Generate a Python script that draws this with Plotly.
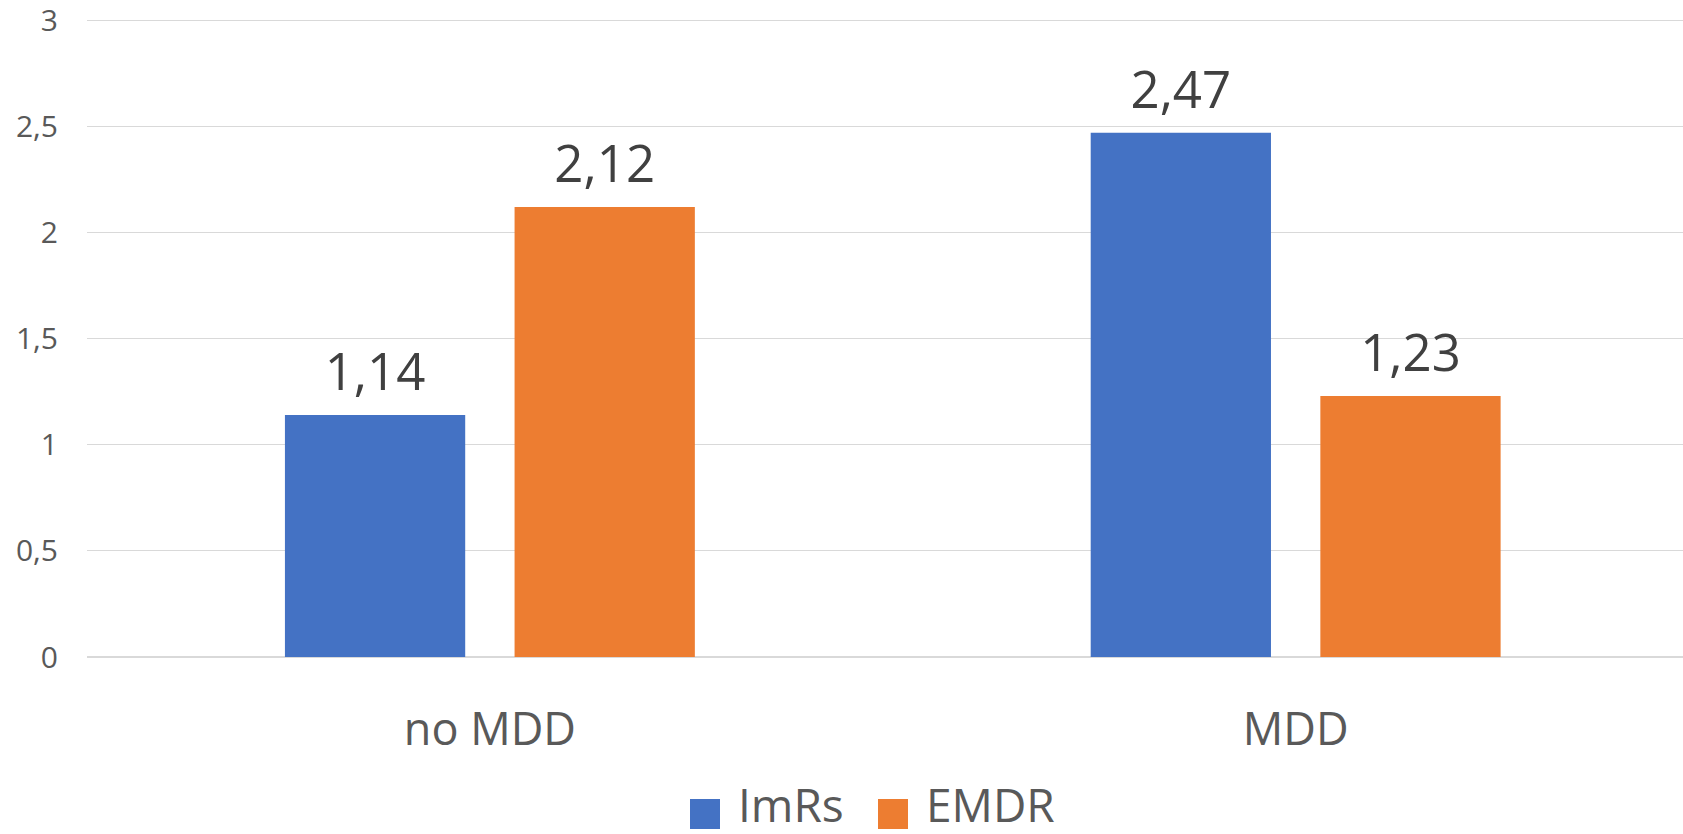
import plotly.graph_objects as go

# Mean scores per group
categories = ["no MDD", "MDD"]
series_names = ["ImRs", "EMDR"]
imrs_values = [1.14, 2.47]
emdr_values = [2.12, 1.23]
series_colors = ["#4472C4", "#ED7D31"]
y_ticks = [0, 0.5, 1, 1.5, 2, 2.5, 3]
y_tick_text = ["0", "0,5", "1", "1,5", "2", "2,5", "3"]

FONT = "Open Sans"
W, H = 1683, 834
Y_MAX = 3.02
M_L, M_R, M_B = 87, 0, 177
M_T = round(H - M_B - 637 * Y_MAX / 3)
BARGAP = 0.43

fig = go.Figure()
for name, vals, col in zip(series_names, [imrs_values, emdr_values], series_colors):
    fig.add_trace(go.Bar(
        x=categories, y=vals, name=name, offsetgroup=name,
        marker=dict(color=col, line=dict(width=0)),
        showlegend=False, hoverinfo="skip",
    ))
# value labels above each bar, grouped the same way as the bars
for name, vals in zip(series_names, [imrs_values, emdr_values]):
    fig.add_trace(go.Scatter(
        x=categories, y=vals, offsetgroup=name, mode="markers+text",
        marker=dict(size=18, opacity=0),
        text=[f"{v:.2f}".replace(".", ",") for v in vals],
        textposition="top center",
        textfont=dict(family=FONT, size=51, color="#404040"),
        showlegend=False, hoverinfo="skip", cliponaxis=False,
    ))

# legend drawn below the axis
pw = W - M_L - M_R
ph = H - M_T - M_B
def px_x(p):
    return (p - M_L) / pw
def px_y(p):
    return (H - M_B - p) / ph

legend_items = [(series_names[0], series_colors[0], 690, 736),
                (series_names[1], series_colors[1], 878, 924)]
shapes, annotations = [], []
for name, col, sx, tx in legend_items:
    shapes.append(dict(type="rect", xref="paper", yref="paper",
                       x0=px_x(sx), x1=px_x(sx + 30), y0=px_y(829), y1=px_y(799),
                       fillcolor=col, line=dict(width=0)))
    annotations.append(dict(xref="paper", yref="paper", x=px_x(tx), y=px_y(804),
                            xanchor="left", yanchor="middle", showarrow=False,
                            text=name, font=dict(family=FONT, size=46, color="#595959")))

fig.update_layout(
    width=W, height=H,
    margin=dict(l=M_L, r=M_R, t=M_T, b=M_B),
    paper_bgcolor="white", plot_bgcolor="white",
    barmode="group", bargap=BARGAP, bargroupgap=0.215,
    scattermode="group", scattergap=BARGAP,
    separators=", ",
    showlegend=False,
    shapes=shapes, annotations=annotations,
    font=dict(family=FONT, color="#595959"),
)
fig.update_xaxes(
    range=[-0.5, 1.4807], showgrid=False, showline=False, zeroline=False,
    ticks="", ticklabelstandoff=42,
    tickfont=dict(family=FONT, size=45, color="#595959"),
)
fig.update_yaxes(
    range=[0, Y_MAX], tickvals=y_ticks, ticktext=y_tick_text,
    showgrid=True, gridcolor="#d9d9d9", gridwidth=1.4,
    zeroline=True, zerolinecolor="#d9d9d9", zerolinewidth=1.6, showline=False,
    ticks="", ticklabelstandoff=28, ticklabeloverflow="allow",
    tickfont=dict(family=FONT, size=30, color="#595959"),
)

fig.write_html("out.html")
